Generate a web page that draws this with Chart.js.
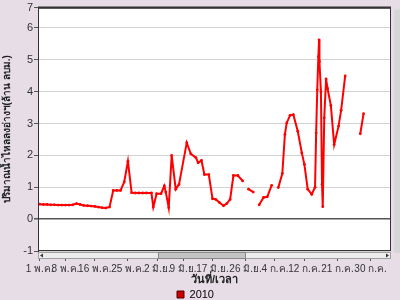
<!DOCTYPE html>
<html>
<head>
<meta charset="utf-8">
<script src="https://cdn.jsdelivr.net/npm/chart.js@4/dist/chart.umd.min.js"></script>
<style>
body { margin: 0; background: #e6dde6; }
</style>
</head>
<body>
<canvas id="chart" width="400" height="300"></canvas>
<script>
// days counted from 1 May 2010, null = no record (line breaks)
const days = [0, 1, 2, 3, 4, 5, 6, 7, 8, 9, 10, 11, 12, 13, 14, 15, 16, 17, 18, 19,
    20, 21, 22, 23, 24, 25, 26, 27, 28, 29,
    30.4, 30.9, 31.8, 33.0, 33.9, 34.3, 35.1, 35.9, 37.0, 37.9,
    40.0, 41.1, 42.5, 43.1, 44.0, 44.8, 46.0, 47.0, 47.9, 48.9,
    50.0, 50.9, 51.8, 52.7, 53.9, 55.2, 56.0, 56.8, 58.1, 58.9,
    59.7, 60.9, 61.9, 63.1, 64.0, 64.9, 66.0, 66.7, 67.2, 68.1,
    69.0, 70.2, 71.3, 72.0, 72.9, 74.0, 74.9, 75.2, 75.5, 75.8,
    76.0, 76.1, 76.5, 76.8, 77.0, 77.4, 77.9, 78.3, 79.2, 80.1,
    81.3, 82.0, 83.1, 85.0, 87.2, 88.1];

const inflow = [0.47, 0.46, 0.46, 0.45, 0.45, 0.44, 0.44, 0.44, 0.44, 0.45, 0.49, 0.46, 0.43, 0.42, 0.41, 0.40, 0.38, 0.36, 0.35, 0.38,
    0.90, 0.90, 0.90, 1.17, 1.82, 0.83, 0.82, 0.82, 0.82, 0.82,
    0.82, 0.38, 0.80, 0.80, 1.04, 0.85, 0.36, 2.00, 0.94, 1.09,
    2.40, 2.05, 1.93, 1.77, 1.84, 1.40, 1.40, 0.64, 0.62, 0.52,
    0.42, 0.49, 0.62, 1.37, 1.37, 1.20, null, 0.94, 0.85, null,
    0.45, 0.68, 0.70, 1.06, null, 0.99, 1.43, 2.66, 3.02, 3.26,
    3.28, 2.76, 2.08, 1.72, 0.94, 0.78, 1.00, 2.70, 4.06, 5.10,
    5.63, 4.95, 4.00, 1.09, 0.39, 3.18, 4.40, 4.10, 3.57, 2.34,
    2.92, 3.42, 4.50, null, 2.68, 3.31];

const tickDays = [0, 7, 15, 24, 32, 39, 47, 56, 64, 72, 81, 90];
const tickLabels = ["1 พ.ค.", "8 พ.ค.", "16 พ.ค.", "25 พ.ค.", "2 มิ.ย.", "9 มิ.ย.",
    "17 มิ.ย.", "26 มิ.ย.", "4 ก.ค.", "12 ก.ค.", "21 ก.ค.", "30 ก.ค."];

const yTicks = [-1, 0, 1, 2, 3, 4, 5, 6];
const yTop = 6.64;   // plot is cut here, the edge is labelled 7

const font = "'Liberation Sans', 'Noto Sans', sans-serif";

// background, frame and the scroll bars of the original widget
const decor = {
    id: "decor",
    beforeDraw(chart) {
        const ctx = chart.ctx;
        const a = chart.chartArea;
        ctx.save();
        ctx.fillStyle = "#e6dde6";
        ctx.fillRect(0, 0, chart.width, chart.height);
        ctx.fillStyle = "#ffffff";
        ctx.fillRect(a.left, a.top, a.right - a.left, a.bottom - a.top);
        ctx.restore();
    },
    afterDraw(chart) {
        const ctx = chart.ctx;
        const a = chart.chartArea;
        ctx.save();
        ctx.strokeStyle = "#333";
        ctx.lineWidth = 1;
        ctx.strokeRect(a.left + 0.5, a.top + 0.5, a.right - a.left - 1, a.bottom - a.top - 1);
        ctx.lineWidth = 2;
        ctx.beginPath();
        ctx.moveTo(a.left, a.top);
        ctx.lineTo(a.right, a.top);
        ctx.stroke();

        // horizontal scroll bar
        ctx.fillStyle = "#ececec";
        ctx.fillRect(a.left, a.bottom + 1, a.right - a.left, 7);
        ctx.strokeStyle = "#a0a0a0";
        ctx.lineWidth = 1;
        ctx.strokeRect(a.left + 0.5, a.bottom + 1.5, a.right - a.left - 1, 6);
        ctx.fillStyle = "#c4c4c4";
        ctx.fillRect(158, a.bottom + 2, 88, 5);
        ctx.strokeStyle = "#888";
        ctx.strokeRect(158.5, a.bottom + 1.5, 87, 6);
        ctx.fillStyle = "#333";
        ctx.beginPath();
        ctx.moveTo(a.left + 5, a.bottom + 2.5);
        ctx.lineTo(a.left + 2, a.bottom + 4.5);
        ctx.lineTo(a.left + 5, a.bottom + 6.5);
        ctx.fill();
        ctx.beginPath();
        ctx.moveTo(a.right - 5, a.bottom + 2.5);
        ctx.lineTo(a.right - 2, a.bottom + 4.5);
        ctx.lineTo(a.right - 5, a.bottom + 6.5);
        ctx.fill();

        // vertical scroll strip at the right edge
        ctx.fillStyle = "#d6d6d6";
        ctx.fillRect(394, a.top + 2, 6, a.bottom - a.top);
        ctx.restore();
    }
};

new Chart(document.getElementById("chart"), {
    type: "line",
    data: {
        datasets: [{
            label: "2010",
            data: days.map((d, i) => ({ x: d, y: inflow[i] })),
            borderColor: "#ff0000",
            backgroundColor: "#cc0000",
            pointBackgroundColor: "#ff0000",
            pointBorderWidth: 0,
            pointRadius: 1.4,
            borderWidth: 2,
            tension: 0,
            spanGaps: false
        }]
    },
    options: {
        responsive: false,
        animation: false,
        layout: { padding: { top: 5, right: 9, left: 0, bottom: -10 } },
        plugins: {
            tooltip: { enabled: false },
            legend: {
                position: "bottom",
                labels: {
                    font: { family: font, size: 11 },
                    color: "#222",
                    boxWidth: 7,
                    boxHeight: 7,
                    padding: 2,
                    generateLabels: (chart) => [{
                        text: chart.data.datasets[0].label,
                        fillStyle: "#cc0000",
                        strokeStyle: "#550000",
                        lineWidth: 1,
                        datasetIndex: 0
                    }]
                }
            }
        },
        scales: {
            x: {
                type: "linear",
                min: -0.46,
                max: 95.56,
                afterBuildTicks: (scale) => {
                    scale.ticks = tickDays.map(v => ({ value: v }));
                },
                afterFit: (scale) => { scale.height = 36; },
                grid: {
                    drawOnChartArea: false,
                    drawTicks: true,
                    tickLength: 10,
                    tickColor: "#555"
                },
                border: { display: false },
                ticks: {
                    autoSkip: false,
                    maxRotation: 0,
                    padding: 2,
                    color: "#333",
                    font: { family: font, size: 10 },
                    callback: (v) => tickLabels[tickDays.indexOf(v)]
                },
                title: {
                    display: true,
                    text: "วันที่/เวลา",
                    color: "#222",
                    padding: 0,
                    font: { family: font, size: 11, weight: "bold" }
                }
            },
            y: {
                min: -1,
                max: yTop,
                afterBuildTicks: (scale) => {
                    scale.ticks = yTicks.concat([yTop]).map(v => ({ value: v }));
                },
                afterFit: (scale) => { scale.width = 38; },
                grid: {
                    color: (c) => c.tick && c.tick.value === 0 ? "#555" : "#d2d2d2",
                    lineWidth: (c) => c.tick && c.tick.value === 0 ? 1.5 : 1,
                    tickLength: 4,
                    tickColor: "#555"
                },
                border: { color: "#333" },
                ticks: {
                    padding: 1,
                    color: "#333",
                    font: { family: font, size: 11 },
                    callback: (v) => v === yTop ? "7" : v
                },
                title: {
                    display: true,
                    text: "ปริมาณน้ำไหลลงอ่างฯ(ล้าน ลบม.)",
                    color: "#222",
                    padding: { top: 1, bottom: 0 },
                    font: { family: font, size: 10, weight: "bold" }
                }
            }
        }
    },
    plugins: [decor]
});
</script>
</body>
</html>
